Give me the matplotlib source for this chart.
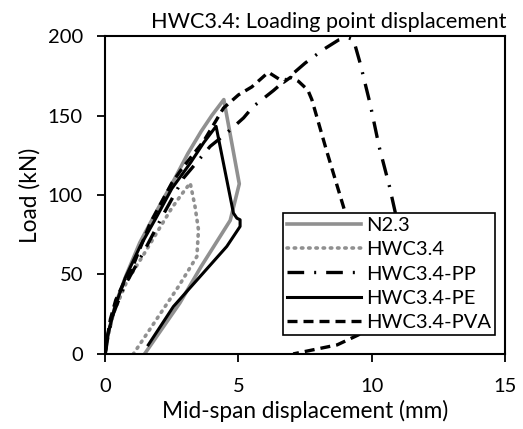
import numpy as np
import matplotlib.pyplot as plt

plt.rcParams['font.family'] = ['Lato', 'DejaVu Sans']

# Load-displacement curves (x in mm, load in kN)
n23_x = [0, 0.1, 0.4, 0.8, 1.3, 2.0, 2.6, 3.1, 3.6, 4.0, 4.45, 5.03, 4.69, 3.6, 2.8, 1.48]
n23_y = [0, 12, 32, 50, 70, 92, 110, 126, 140, 150, 160, 107, 84, 55, 32, 0]

hwc_x = [0, 0.1, 0.31, 0.81, 1.44, 2.0, 2.5, 2.85, 3.19, 3.37, 3.5, 3.44, 2.75, 1.06]
hwc_y = [0, 10, 25.6, 45.5, 62.4, 78, 91.8, 100, 107.5, 92.8, 78, 61.3, 42.4, 0]

pp_x = [0, 0.1, 0.3, 0.7, 1.44, 2.19, 2.94, 3.94, 4.56, 5.19, 5.55, 6.31, 7.5, 8.18,
        8.75, 9.1, 9.31, 9.56, 9.94, 10.27, 10.66, 10.87, 11.2, 11.4]
pp_y = [0, 11, 25, 42, 64, 88, 110.7, 130.6, 139, 148.5, 155.6, 165.7, 183, 191.5,
        197.5, 199, 197.8, 183, 157, 130.6, 105.4, 89.6, 60, 40]

pe_x = [0, 0.1, 0.37, 0.75, 1.31, 1.94, 2.5, 3.19, 3.7, 4.06, 4.16, 4.81, 4.94, 5.06,
        5.06, 4.56, 3.56, 2.56, 1.62]
pe_y = [0, 12, 29.8, 47.7, 67.6, 86.5, 104, 120, 133, 141, 143.2, 88.6, 85.4, 84.4,
        80.2, 67.6, 48.7, 29.8, 5.7]

pva_x = [0, 0.1, 0.2, 0.4, 0.81, 1.06, 1.69, 2.5, 2.9, 3.7, 4.44, 5.0, 5.5, 6.12,
         6.7, 6.95, 7.25, 7.6, 7.75, 8.3, 9.0, 9.6, 10.0, 9.5, 8.7, 7.05]
pva_y = [0, 12, 22, 34, 48.7, 56, 82.3, 107.5, 117, 134, 154.7, 163, 168, 177.2,
         171, 174, 171.5, 166, 160, 128, 89, 50, 20, 12, 5.7, 0]

fig = plt.figure(figsize=(5.23, 4.29), dpi=100)
ax = fig.add_axes([0.201, 0.175, 0.765, 0.741])

ax.plot(n23_x, n23_y, color='#909090', lw=2.6, label='N2.3')
ax.plot(hwc_x, hwc_y, color='#909090', lw=2.6, linestyle=(0, (0.4, 1.6)),
        dash_capstyle='round', label='HWC3.4')
ax.plot(pp_x, pp_y, color='black', lw=2.4, linestyle=(0, (5, 3, 0.6, 3)),
        label='HWC3.4-PP')
ax.plot(pe_x, pe_y, color='black', lw=2.2, label='HWC3.4-PE')
ax.plot(pva_x, pva_y, color='black', lw=2.4, linestyle=(0, (3, 1.8)),
        label='HWC3.4-PVA')

ax.set_xlim(0, 15)
ax.set_ylim(0, 200)
ax.set_xticks([0, 5, 10, 15])
ax.set_yticks([0, 50, 100, 150, 200])
ax.tick_params(labelsize=14.5, length=6, width=1.3, direction='out')
ax.tick_params(axis='x', pad=11)
ax.tick_params(axis='y', pad=10)
for s in ax.spines.values():
    s.set_linewidth(1.5)

ax.set_xlabel('Mid-span displacement (mm)', fontsize=16.3, labelpad=4)
ax.set_ylabel('Load (kN)', fontsize=16.3, labelpad=5)
fig.text(0.969, 0.935, 'HWC3.4: Loading point displacement', fontsize=15.6,
         ha='right', va='baseline')

leg = ax.legend(loc='lower right', bbox_to_anchor=(0.975, 0.06), fontsize=14.5,
                frameon=True, fancybox=False, edgecolor='black', framealpha=1,
                handlelength=3.7, handletextpad=0.25, labelspacing=0.35,
                borderpad=0.2, borderaxespad=0)
leg.get_frame().set_linewidth(1.2)

fig.savefig('out.png', dpi=100)
